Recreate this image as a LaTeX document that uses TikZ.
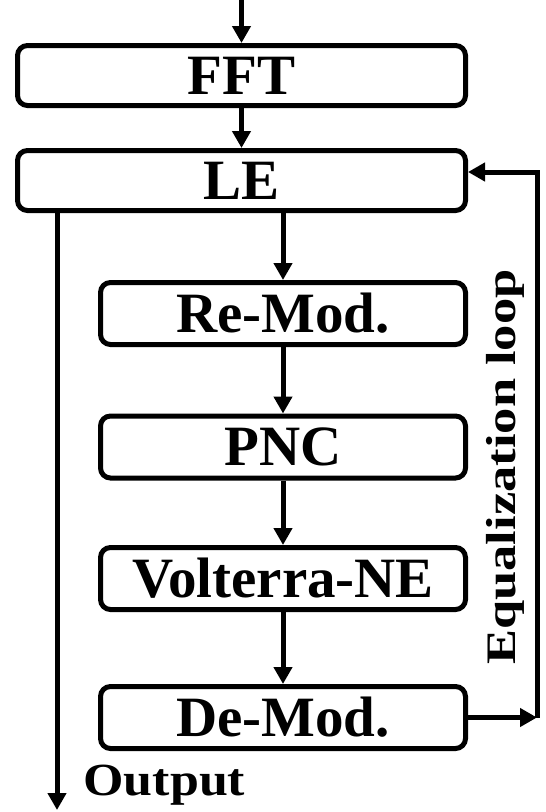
\documentclass[tikz,border=0pt]{standalone}
\usepackage{fontspec}
\setmainfont{Liberation Serif}
\usetikzlibrary{arrows.meta}

\begin{document}
\begin{tikzpicture}[x=1pt, y=-1pt,
        blk/.style={draw, line width=5pt, rounded corners=10pt, inner sep=0pt,
            font=\fontsize{57}{60}\selectfont\bfseries},
        wideblk/.style={blk, minimum width=448pt, minimum height=60pt},
        innerblk/.style={blk, minimum width=365pt, minimum height=62pt},
        arr/.style={line width=5pt, -{Triangle[length=17pt, width=18pt]}}]
        \useasboundingbox (0,0) rectangle (546,812);
        % main chain
        \node[wideblk] (fft) at (241.5,75.5) {FFT};
        \node[wideblk] (le) at (241.5,180.5) {LE};
        \node[innerblk] (remod) at (283,313.5) {Re-Mod.};
        \node[innerblk] (pnc) at (283,447) {PNC};
        \node[innerblk] (volt) at (283,578.5) {Volterra-NE};
        \node[innerblk] (demod) at (283,717.5) {De-Mod.};
        \coordinate (in) at (241.5,0);
        \coordinate (out) at (57,810);
        \coordinate (loopb) at (537,717.5);
        \coordinate (loopt) at (537,172);
        \draw[arr] (in) -- (fft);
        \draw[arr] (fft) -- (le);
        \draw[arr] (le.south -| remod.north) -- (remod);
        \draw[arr] (remod) -- (pnc);
        \draw[arr] (pnc) -- (volt);
        \draw[arr] (volt) -- (demod);
        \draw[arr] (le.south -| out) -- (out);
        \node[anchor=base west, font=\fontsize{46}{50}\selectfont\bfseries] (outlbl) at (80,795) {\scalebox{1.13}[1]{Output}};
        % equalization loop
        \draw[arr] (demod.east) -- (loopb);
        \draw[arr, line join=miter] (loopb) -- (loopt) -- (le.east |- loopt);
        \node[rotate=90, anchor=base, font=\fontsize{42}{46}\selectfont\bfseries] (eqlbl) at (515,467) {\scalebox{1.25}[1]{Equalization loop}};
    \end{tikzpicture}
\end{document}
